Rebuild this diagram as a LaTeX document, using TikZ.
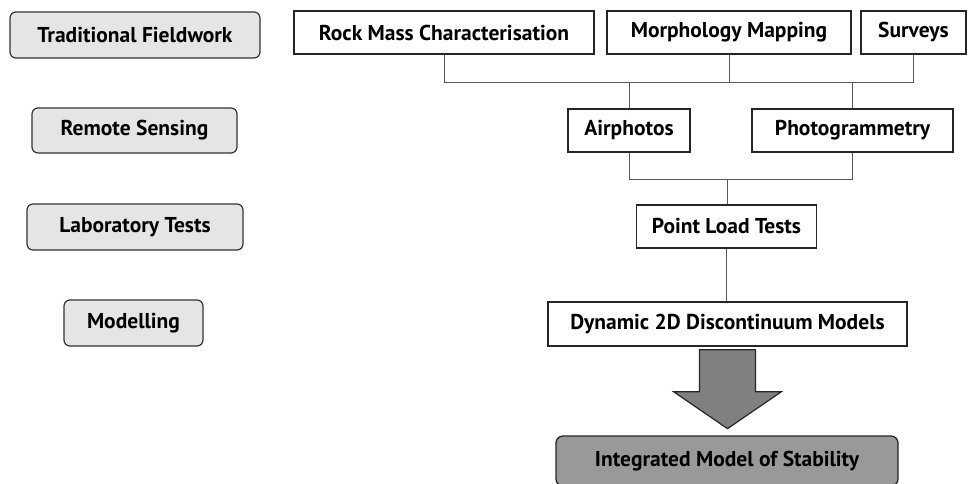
\documentclass[tikz,border=0pt]{standalone}
\usepackage{fontspec}
\setmainfont{PT Sans}
\begin{document}
\begin{tikzpicture}[x=1pt,y=-1pt,
  lbox/.style={draw=black!80,line width=1.2pt,rounded corners=6pt,fill=black!10,inner sep=0pt,font=\fontsize{21.5}{24}\selectfont\bfseries},
  rbox/.style={draw=black!85,line width=1.3pt,fill=white,inner sep=0pt,font=\fontsize{21.5}{24}\selectfont\bfseries},
  conn/.style={draw=black!65,line width=1pt}]
\useasboundingbox (0,0) rectangle (975,483);
\clip (0,0) rectangle (975,483);
% left column
\node[lbox,minimum width=250pt,minimum height=46pt] (tf) at (135,35) {Traditional Fieldwork};
\node[lbox,minimum width=205pt,minimum height=45pt] (rs) at (134.5,130.5) {Remote Sensing};
\node[lbox,minimum width=216pt,minimum height=46pt] (lt) at (135,227) {Laboratory Tests};
\node[lbox,minimum width=139pt,minimum height=46pt] (mo) at (133.5,323) {Modelling};
% right
\node[rbox,minimum width=300pt,minimum height=43pt] (rock) at (444,32.5) {Rock Mass Characterisation};
\node[rbox,minimum width=244pt,minimum height=43pt] (morph) at (729,32.5) {Morphology Mapping};
\node[rbox,minimum width=105pt,minimum height=43pt] (surv) at (913.5,32.5) {Surveys};
\node[rbox,minimum width=122pt,minimum height=43pt] (air) at (629,130.5) {Airphotos};
\node[rbox,minimum width=201pt,minimum height=43pt] (photo) at (852.5,130.5) {Photogrammetry};
\node[rbox,minimum width=180pt,minimum height=43pt] (plt) at (726.5,226.5) {Point Load Tests};
\node[rbox,minimum width=359pt,minimum height=44pt] (dyn) at (727.5,324) {Dynamic 2D Discontinuum Models};
\node[draw=black!85,line width=1.3pt,rounded corners=7pt,fill=black!40,inner sep=0pt,font=\fontsize{21.5}{24}\selectfont\bfseries,minimum width=342pt,minimum height=50pt] (int) at (727,461) {\raisebox{4pt}{Integrated Model of Stability}};
% connectors
\coordinate (j1) at (0,82);
\coordinate (j2) at (0,179);
\draw[conn] (rock.south) |- (surv.south |- j1) -- (surv.south);
\draw[conn] (morph.south) -- (morph.south |- j1);
\draw[conn] (air.north) -- (air.north |- j1);
\draw[conn] ([xshift=-0.5pt]photo.north) -- ([xshift=-0.5pt]photo.north |- j1);
\draw[conn] (air.south) |- ([xshift=-0.5pt]photo.south |- j2) -- ([xshift=-0.5pt]photo.south);
\draw[conn] ([xshift=0.5pt]plt.north) -- ([xshift=0.5pt]plt.north |- j2);
\draw[conn] (plt.south) -- (plt.south |- dyn.north);
% big arrow
\coordinate (at) at ([yshift=-3pt]dyn.south);
\draw[draw=black!85,line width=1.2pt,fill=black!50,line join=miter]
  ([xshift=-28pt]at) -- ([xshift=-28pt,yshift=-42pt]at) -- ([xshift=-54pt,yshift=-42pt]at)
  -- ([yshift=-79pt]at) -- ([xshift=54pt,yshift=-42pt]at) -- ([xshift=28pt,yshift=-42pt]at)
  -- ([xshift=28pt]at) -- cycle;
\end{tikzpicture}
\end{document}
